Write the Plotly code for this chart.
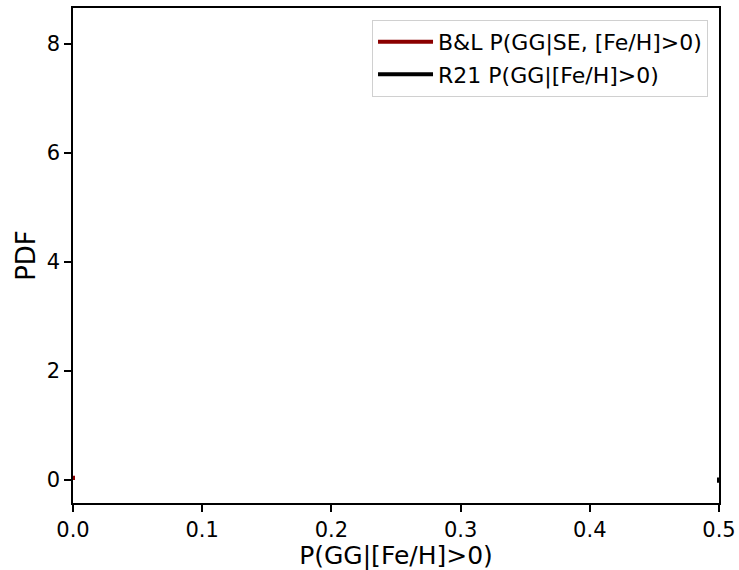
import plotly.graph_objects as go

# Data (series are essentially degenerate at the axis edges)
bl_x = [0.0, 0.0]
bl_y = [0.0, 0.08]
r21_x = [0.5, 0.5]
r21_y = [-0.05, 0.05]
series_names = ["B&L P(GG|SE, [Fe/H]>0)", "R21 P(GG|[Fe/H]>0)"]
x_ticks = [0.0, 0.1, 0.2, 0.3, 0.4, 0.5]
x_tick_labels = ["0.0", "0.1", "0.2", "0.3", "0.4", "0.5"]
y_ticks = [0, 2, 4, 6, 8]

fig = go.Figure()
fig.add_trace(go.Scatter(x=bl_x, y=bl_y, mode="lines", name=series_names[0],
                         legendgroup="a",
                         line=dict(color="#8b0000", width=4)))
fig.add_trace(go.Scatter(x=r21_x, y=r21_y, mode="lines", name=series_names[1],
                         legendgroup="b",
                         line=dict(color="black", width=4)))

font = "DejaVu Sans, Arial, sans-serif"
fig.update_layout(
    width=739, height=570,
    margin=dict(l=73, r=20, t=8, b=67),
    plot_bgcolor="white", paper_bgcolor="white",
    font=dict(family=font, size=21, color="black"),
    showlegend=True,
    legend=dict(x=0.983, y=0.976, xanchor="right", yanchor="top",
                bgcolor="white", bordercolor="#d0d0d0", borderwidth=1,
                font=dict(size=22), tracegroupgap=1, itemwidth=55),
    xaxis=dict(range=[0, 0.5], tickvals=x_ticks, ticktext=x_tick_labels,
               showgrid=False, zeroline=False, showline=True, mirror=True,
               linecolor="black", linewidth=1.5, ticks="outside", ticklen=7,
               tickwidth=1.5, tickcolor="black", automargin=False,
               title=dict(text="P(GG|[Fe/H]>0)", font=dict(size=25), standoff=4)),
    yaxis=dict(range=[-0.42, 8.66], tickvals=y_ticks,
               showgrid=False, zeroline=False, showline=True, mirror=True,
               linecolor="black", linewidth=1.5, ticks="outside", ticklen=7,
               tickwidth=1.5, tickcolor="black", automargin=False,
               title=dict(text="PDF", font=dict(size=26), standoff=4)),
)

fig.write_html("out.html", config={"displayModeBar": False},
               post_script="document.body.style.margin='0';")
